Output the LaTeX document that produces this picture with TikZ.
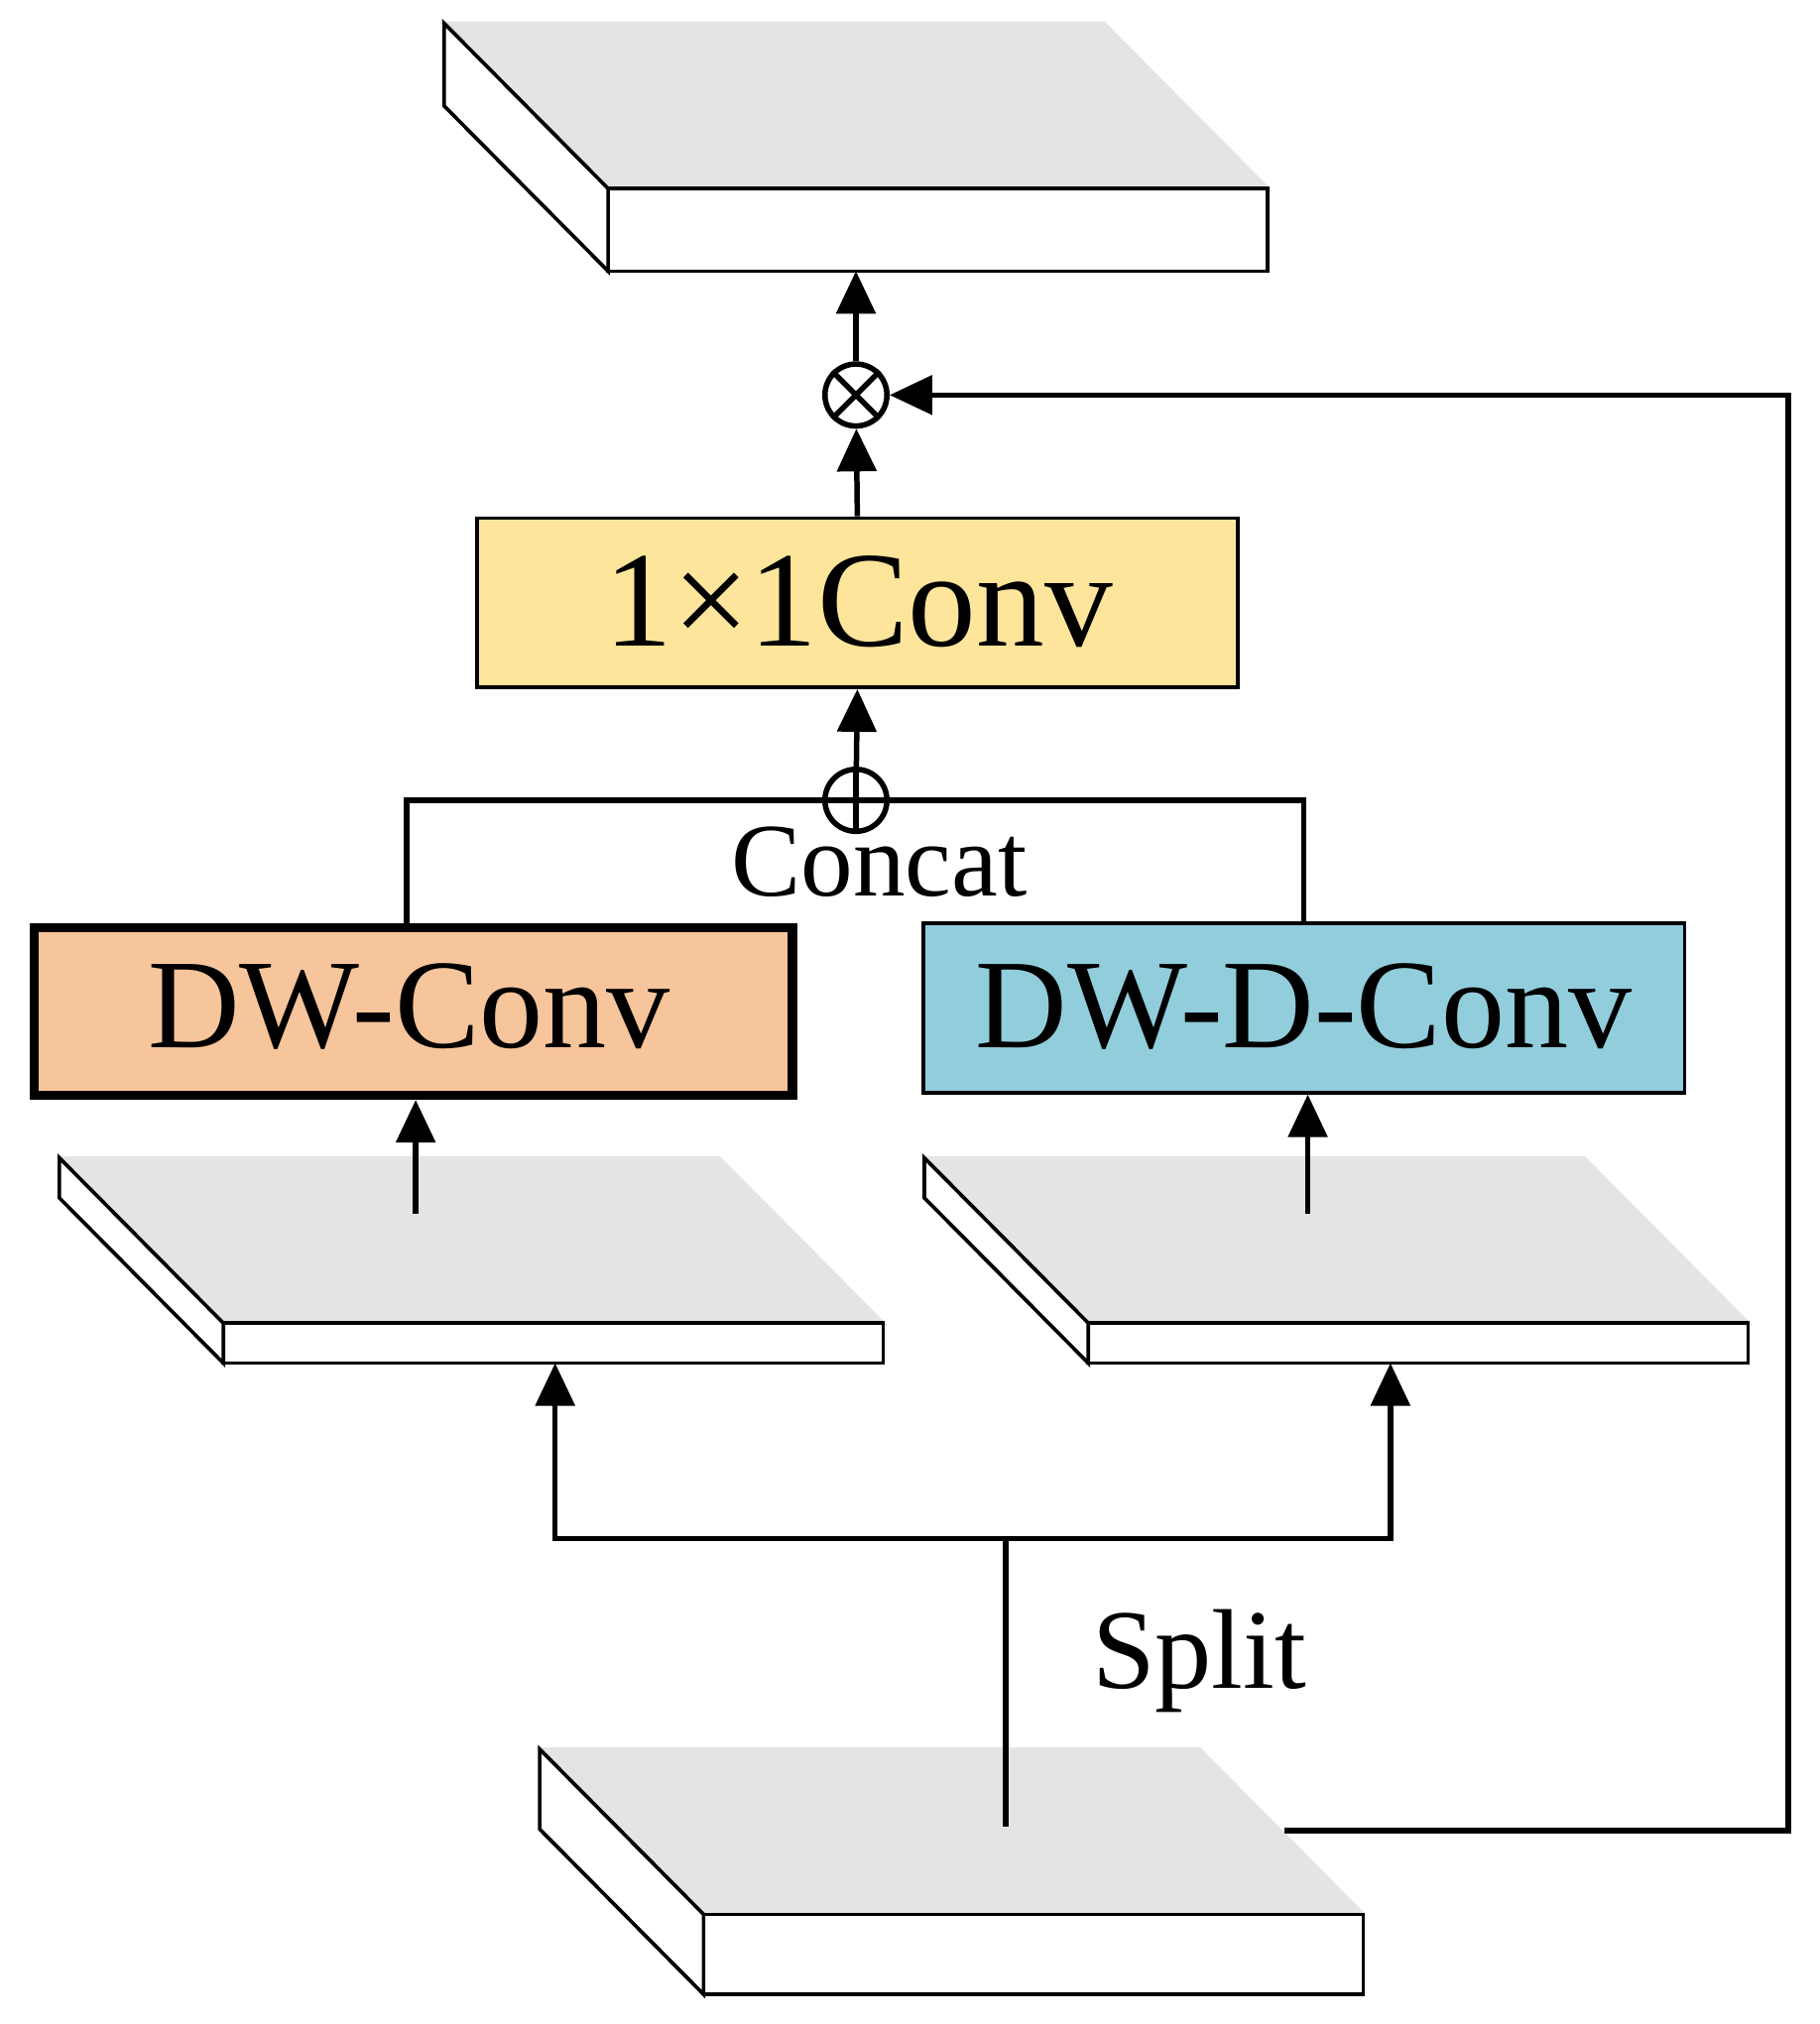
\documentclass[tikz,border=0pt]{standalone}
\usepackage{fontspec}
\setmainfont{Liberation Serif}
\usetikzlibrary{arrows.meta}
\definecolor{slabgray}{HTML}{E4E4E4}
\definecolor{convy}{HTML}{FDE59B}
\definecolor{convo}{HTML}{F7C59B}
\definecolor{convb}{HTML}{92CDDC}
\begin{document}
\begin{tikzpicture}[x=0.01cm,y=-0.01cm,
  ln/.style={line width=1.2pt},
  arr/.style={ln,-{Triangle[length=0.33cm,width=0.3cm]}},
  box/.style={draw,line width=0.8pt,anchor=north west,inner sep=0pt},
  sl/.style={draw,line width=0.8pt}]
\useasboundingbox (0,0) rectangle (1409,1568);
% slab macro via pic
\tikzset{slab/.pic={
  \fill[slabgray,sl] (0,0) -- (511,0) -- (638,128) -- (127,128) -- cycle;
  \filldraw[fill=white,sl] (127,128) rectangle (638,#1);
  \filldraw[fill=white,sl] (0,0) -- (127,128) -- (127,#1) -- (0,#1-128) -- cycle;
}}
\pic at (344,18) {slab=192};
\pic at (46,897) {slab=159};
\pic at (716,897) {slab=159};
\pic at (418,1355) {slab=190};
% boxes
\node[box,fill=convy,minimum width=5.89cm,minimum height=1.31cm] (c11) at (368,400) {};
\node[font=\fontsize{30}{30}\selectfont] at (665,466) {1×1Conv};
\node[box,fill=convo,line width=2pt,minimum width=5.87cm,minimum height=1.30cm] (dw) at (23,715) {};
\node[font=\fontsize{28}{28}\selectfont] at (317,780) {DW-Conv};
\node[box,fill=convb,minimum width=5.89cm,minimum height=1.31cm] (dwd) at (714,714) {};
\node[font=\fontsize{28}{28}\selectfont] at (1010,780) {DW-D-Conv};
\node[font=\fontsize{23}{23}\selectfont] at (681,668) {Concat};
\node[font=\fontsize{25}{25}\selectfont] at (929,1287) {Split};
% operators
\node[draw,circle,ln,minimum size=0.48cm,inner sep=0pt] (mul) at (663,306) {};
\draw[ln] (mul.north west) -- (mul.south east) (mul.north east) -- (mul.south west);
\node[draw,circle,ln,minimum size=0.48cm,inner sep=0pt] (add) at (663,620) {};
\draw[ln] (add.north) -- (add.south) (add.west) -- (add.east);
% coordinates
\coordinate (topslab) at (663,210);
\coordinate (dwtop) at (315,715);
\coordinate (dwdtop) at (1010,715);
\coordinate (lin) at (322,940);
\coordinate (rin) at (1013,940);
\coordinate (lslab) at (430,1056);
\coordinate (rslab) at (1077,1056);
\coordinate (split) at (779,1415);
\coordinate (res) at (995,1418);
% connectors
\draw[arr] (c11.north) -- (mul);
\draw[arr] (mul) -- (topslab);
\draw[arr] (add) -- (c11.south);
\draw[ln] (dwtop) |- (add.west);
\draw[ln] (dwdtop) |- (add.east);
\draw[arr] (lin) -- (lin |- dw.south);
\draw[arr] (rin) -- (rin |- dwd.south);
\draw[ln] (split) -- (779,1192);
\draw[arr] (779,1192) -| (lslab);
\draw[arr] (779,1192) -| (rslab);
\draw[arr] (res) -- (1385,1418) |- (mul.east);
\end{tikzpicture}
\end{document}
